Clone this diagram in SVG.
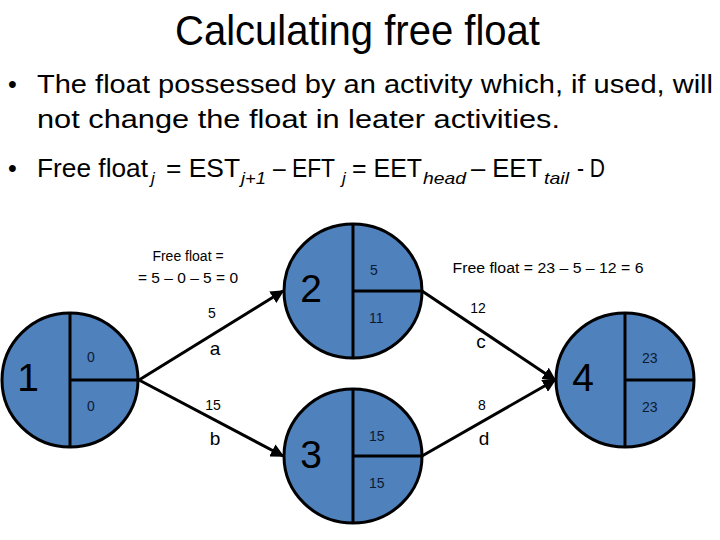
<svg xmlns="http://www.w3.org/2000/svg" width="720" height="540" viewBox="0 0 720 540">
<style>
text{font-family:"Liberation Sans",Arial,sans-serif;fill:#000}
.title{font-size:42px}
.b{font-size:25px}
.sub{font-size:17px;font-style:italic}
.node{fill:#4F81BD;stroke:#000;stroke-width:3}
.div{stroke:#000;stroke-width:3;fill:none}
.big{font-size:39px;text-anchor:middle}
.num{font-size:14px;fill:#0d1a33}
.lbl{font-size:14px;text-anchor:middle}
.act{font-size:19px;text-anchor:middle}
.edge{stroke:#000;stroke-width:3;fill:none;marker-end:url(#ah)}
</style>
<defs>
<marker id="ah" markerWidth="4.5" markerHeight="4.5" refX="4" refY="2.25" orient="auto" markerUnits="strokeWidth">
<path d="M0,0 L4.5,2.25 L0,4.5 Z" fill="#000"/>
</marker>
</defs>
<rect width="720" height="540" fill="#fff"/>
<text class="title" x="175" y="45" textLength="365" lengthAdjust="spacingAndGlyphs">Calculating free float</text>
<text class="b" x="8" y="93">•</text>
<text class="b" x="37" y="93" textLength="676" lengthAdjust="spacingAndGlyphs">The float possessed by an activity which, if used, will</text>
<text class="b" x="37" y="128" textLength="523" lengthAdjust="spacingAndGlyphs">not change the float in leater activities.</text>
<text class="b" x="8" y="177">•</text>
<text class="b" x="37" y="177" textLength="111" lengthAdjust="spacingAndGlyphs">Free float</text>
<text class="sub" x="151" y="184">j</text>
<text class="b" x="166" y="177" textLength="74" lengthAdjust="spacingAndGlyphs">= EST</text>
<text class="sub" x="241" y="184" textLength="25" lengthAdjust="spacingAndGlyphs">j+1</text>
<text class="b" x="273" y="177" textLength="62" lengthAdjust="spacingAndGlyphs">– EFT</text>
<text class="sub" x="342" y="184">j</text>
<text class="b" x="352" y="177" textLength="70" lengthAdjust="spacingAndGlyphs">= EET</text>
<text class="sub" x="423" y="184" textLength="43" lengthAdjust="spacingAndGlyphs">head</text>
<text class="b" x="471" y="177" textLength="71" lengthAdjust="spacingAndGlyphs">– EET</text>
<text class="sub" x="544" y="184" textLength="25" lengthAdjust="spacingAndGlyphs">tail</text>
<text class="b" x="577" y="177" textLength="28" lengthAdjust="spacingAndGlyphs">- D</text>

<g id="connectors">
<line class="edge" x1="139" y1="380" x2="283" y2="291"/>
<line class="edge" x1="139" y1="380" x2="283" y2="456"/>
<line class="edge" x1="422" y1="291" x2="555" y2="380"/>
<line class="edge" x1="422" y1="456" x2="555" y2="380"/>
<text class="lbl" x="188" y="261">Free float =</text>
<text class="lbl" x="188" y="283" textLength="100" lengthAdjust="spacingAndGlyphs">= 5 – 0 – 5 = 0</text>
<text class="lbl" x="212" y="318">5</text>
<text class="act" x="215" y="355">a</text>
<text class="lbl" x="213" y="410">15</text>
<text class="act" x="215" y="445">b</text>
<text class="lbl" x="478" y="313">12</text>
<text class="act" x="481" y="348">c</text>
<text class="lbl" x="482" y="410">8</text>
<text class="act" x="484" y="445">d</text>
<text class="lbl" x="548" y="273" textLength="191" lengthAdjust="spacingAndGlyphs">Free float = 23 – 5 – 12 = 6</text>
</g>

<g id="node1">
<ellipse class="node" cx="70" cy="380" rx="68" ry="67"/>
<line class="div" x1="70" y1="313" x2="70" y2="447"/>
<line class="div" x1="70" y1="380" x2="138" y2="380"/>
<text class="big" x="28" y="391">1</text>
<text class="num" x="87" y="362">0</text>
<text class="num" x="87" y="411">0</text>
</g>
<g id="node2">
<ellipse class="node" cx="353" cy="291" rx="69" ry="67"/>
<line class="div" x1="353" y1="224" x2="353" y2="358"/>
<line class="div" x1="353" y1="291" x2="422" y2="291"/>
<text class="big" x="311" y="302">2</text>
<text class="num" x="370" y="275">5</text>
<text class="num" x="369" y="323">11</text>
</g>
<g id="node3">
<ellipse class="node" cx="353" cy="456" rx="69" ry="67"/>
<line class="div" x1="353" y1="389" x2="353" y2="523"/>
<line class="div" x1="353" y1="456" x2="422" y2="456"/>
<text class="big" x="311" y="468">3</text>
<text class="num" x="369" y="441">15</text>
<text class="num" x="369" y="488">15</text>
</g>
<g id="node4">
<ellipse class="node" cx="625" cy="380" rx="69" ry="67"/>
<line class="div" x1="625" y1="313" x2="625" y2="447"/>
<line class="div" x1="625" y1="380" x2="694" y2="380"/>
<text class="big" x="583" y="391">4</text>
<text class="num" x="642" y="363">23</text>
<text class="num" x="642" y="412">23</text>
</g>
</svg>
